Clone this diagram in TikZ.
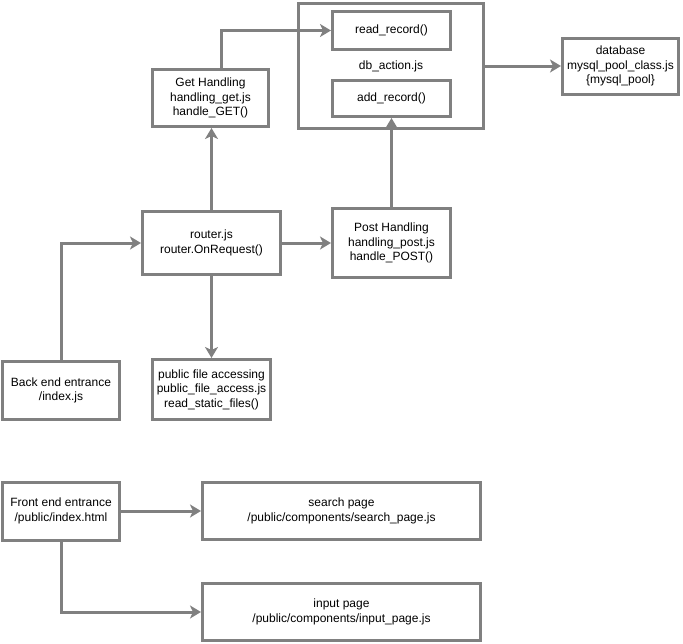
\documentclass[tikz,border=0pt]{standalone}
\usepackage{fontspec}
\setmainfont{Liberation Sans}
\usetikzlibrary{arrows.meta,positioning}
\definecolor{linegray}{HTML}{808080}
\tikzset{
  flow/.style={-{Stealth[length=11pt,width=13pt,inset=3pt]},line width=3pt,linegray},
  box/.style={draw=linegray,line width=3pt,inner sep=0pt,align=center,
    font=\fontsize{12}{14.5}\selectfont},
  labeltext/.style={font=\fontsize{12}{14.5}\selectfont,align=center}
}

\begin{document}
\begin{tikzpicture}[x=1pt,y=-1pt]
\useasboundingbox (0,0) rectangle (683,643);
% back end
\node[box,minimum width=185,minimum height=125] (db) at (391,66) {};
\node[box,minimum width=118,minimum height=38] (read) at (391.5,30.5) {read\_record()};
\node[box,minimum width=118,minimum height=36] (add) at (391.5,98.5) {add\_record()};
\node[labeltext] (dblbl) at (391,66) {db\_action.js};
\node[box,minimum width=116,minimum height=56] (database) at (620.5,66) {database\\mysql\_pool\_class.js\\\{mysql\_pool\}};
\node[box,minimum width=116,minimum height=57] (get) at (210.5,98) {Get Handling\\handling\_get.js\\handle\_GET()};
\node[box,minimum width=138,minimum height=63] (router) at (211.5,243) {router.js\\router.OnRequest()};
\node[box,minimum width=118,minimum height=69] (post) at (391.5,243) {Post Handling\\handling\_post.js\\handle\_POST()};
\node[box,minimum width=118,minimum height=60] (pub) at (211.5,389.5) {public file accessing\\public\_file\_access.js\\read\_static\_files()};
\node[box,minimum width=117,minimum height=58] (back) at (61,390.5) {Back end entrance\\/index.js};
% front end
\node[box,minimum width=117,minimum height=58] (front) at (61,511) {Front end entrance\\/public/index.html};
\node[box,minimum width=278,minimum height=57] (search) at (341.5,511) {search page\\/public/components/search\_page.js};
\node[box,minimum width=278,minimum height=57] (input) at (341.5,612) {input page\\/public/components/input\_page.js};

\draw[flow] ([xshift=11pt]get.north) |- (read.west);
\draw[flow] (router.north) -- (router.north |- get.south);
\draw[flow] (back.north) |- (router.west);
\draw[flow] (router.east) -- (post.west);
\draw[flow] (post.north) -- (add.south);
\draw[flow] (db.east) -- (database.west);
\draw[flow] (router.south) -- (pub.north);
\draw[flow] (front.east) -- (search.west);
\draw[flow] (front.south) |- (input.west);
\end{tikzpicture}
\end{document}
